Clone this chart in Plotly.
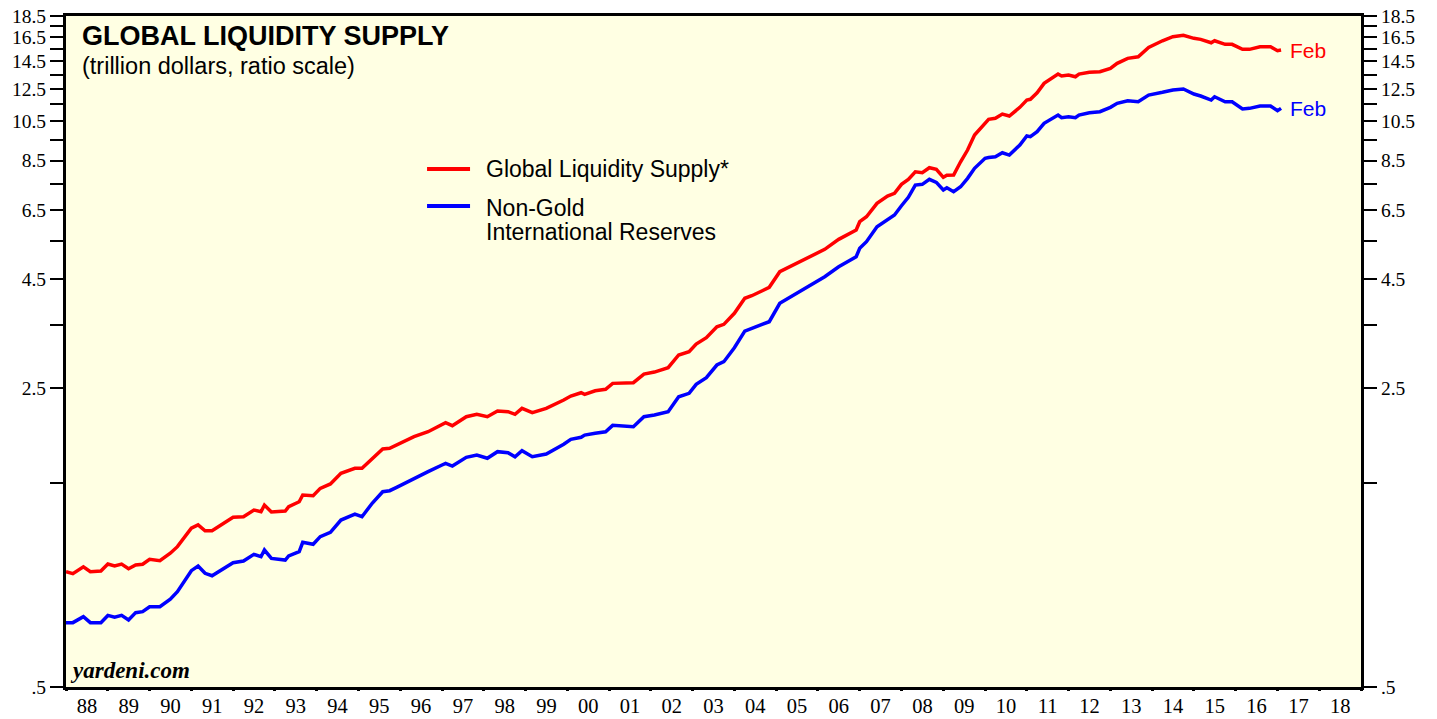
import math
import plotly.graph_objects as go

# ---- data (trillion dollars) ----
dates = [
    "1988-01", "1988-03", "1988-06", "1988-08", "1988-11",
    "1989-01", "1989-03", "1989-05", "1989-07", "1989-09", "1989-11",
    "1990-01", "1990-04", "1990-07", "1990-09",
    "1991-01", "1991-03", "1991-05", "1991-07", "1991-10",
    "1992-01", "1992-04", "1992-07", "1992-09", "1992-10", "1992-12",
    "1993-04", "1993-05", "1993-08", "1993-09", "1993-12",
    "1994-02", "1994-05", "1994-08", "1994-12",
    "1995-02", "1995-05", "1995-08", "1995-10", "1995-12",
    "1996-05", "1996-09",
    "1997-01", "1997-02", "1997-04", "1997-08", "1997-11",
    "1998-02", "1998-05", "1998-08", "1998-10", "1998-12",
    "1999-03", "1999-07", "1999-12",
    "2000-02", "2000-05", "2000-06", "2000-09", "2000-12",
    "2001-02", "2001-05", "2001-08", "2001-11",
    "2002-02", "2002-06", "2002-09", "2002-12",
    "2003-02", "2003-05", "2003-08", "2003-10",
    "2004-01", "2004-04", "2004-06", "2004-09", "2004-11",
    "2005-02", "2005-05", "2005-07", "2005-10",
    "2006-03", "2006-07", "2006-12",
    "2007-01", "2007-03", "2007-06", "2007-09", "2007-11",
    "2008-01", "2008-03", "2008-05", "2008-07", "2008-09", "2008-11",
    "2009-01", "2009-02", "2009-04", "2009-06", "2009-08", "2009-10",
    "2010-01", "2010-02", "2010-04", "2010-06", "2010-08", "2010-10", "2010-11",
    "2011-01", "2011-02", "2011-04", "2011-06", "2011-10", "2011-11",
    "2012-01", "2012-03", "2012-04", "2012-07", "2012-10",
    "2013-01", "2013-03", "2013-06", "2013-09", "2013-12",
    "2014-04", "2014-07", "2014-10",
    "2015-01", "2015-03", "2015-06", "2015-07", "2015-10", "2015-12",
    "2016-03", "2016-05", "2016-08", "2016-11",
    "2017-01", "2017-02",
]

global_liquidity = [
    0.93, 0.92, 0.955, 0.93, 0.933,
    0.969, 0.959, 0.969, 0.945, 0.964, 0.968,
    0.994, 0.987, 1.027, 1.064,
    1.175, 1.196, 1.159, 1.159, 1.202,
    1.246, 1.25, 1.296, 1.284, 1.331, 1.282,
    1.289, 1.319, 1.355, 1.405, 1.40,
    1.456, 1.491, 1.579, 1.622,
    1.622, 1.712, 1.80, 1.806, 1.839,
    1.923, 1.975,
    2.048, 2.073, 2.04, 2.141, 2.169,
    2.141, 2.208, 2.20, 2.169, 2.24,
    2.188, 2.24, 2.343,
    2.393, 2.436, 2.415, 2.462, 2.481,
    2.562, 2.562, 2.571, 2.694,
    2.723, 2.787, 2.985, 3.038,
    3.166, 3.276, 3.475, 3.52,
    3.735, 4.049, 4.106, 4.218, 4.296,
    4.672, 4.80, 4.904, 5.049,
    5.271, 5.562, 5.847,
    6.115, 6.282, 6.751, 7.021, 7.124,
    7.477, 7.681, 8.002, 7.959, 8.176, 8.106,
    7.764, 7.848, 7.861, 8.444, 8.993, 9.749,
    10.383, 10.608, 10.666, 10.915, 10.798, 11.153, 11.316,
    11.769, 11.814, 12.241, 12.876, 13.537, 13.392,
    13.464, 13.342, 13.537, 13.661, 13.705,
    13.958, 14.339, 14.73, 14.857, 15.628,
    16.193, 16.546, 16.671,
    16.404, 16.316, 16.02, 16.193, 15.883, 15.883,
    15.461, 15.461, 15.679, 15.679,
    15.346, 15.403,
]

non_gold_reserves = [
    0.707, 0.707, 0.73, 0.707, 0.707,
    0.735, 0.728, 0.735, 0.717, 0.746, 0.75,
    0.77, 0.77, 0.802, 0.835,
    0.935, 0.959, 0.922, 0.91, 0.942,
    0.976, 0.985, 1.021, 1.008, 1.045, 0.999,
    0.99, 1.012, 1.036, 1.089, 1.078,
    1.123, 1.149, 1.228, 1.268,
    1.25, 1.344, 1.43, 1.438, 1.464,
    1.537, 1.593,
    1.651, 1.666, 1.642, 1.721, 1.742,
    1.712, 1.774, 1.764, 1.726, 1.783,
    1.726, 1.752, 1.846,
    1.896, 1.917, 1.94, 1.958, 1.975,
    2.044, 2.037, 2.029, 2.141,
    2.161, 2.20, 2.384, 2.428,
    2.549, 2.641, 2.828, 2.879,
    3.104, 3.395, 3.445, 3.526, 3.57,
    3.941, 4.07, 4.172, 4.296,
    4.549, 4.80, 5.065,
    5.299, 5.491, 5.953, 6.194, 6.339,
    6.664, 6.972, 7.449, 7.477, 7.681, 7.558,
    7.252, 7.342, 7.186, 7.381, 7.723, 8.15,
    8.60, 8.64, 8.674, 8.863, 8.754, 9.076, 9.239,
    9.697, 9.661, 9.924, 10.383, 10.856, 10.70,
    10.758, 10.70, 10.856, 10.992, 11.052,
    11.316, 11.563, 11.726, 11.663, 12.091,
    12.268, 12.421, 12.487,
    12.156, 12.026, 11.769, 11.981, 11.663, 11.663,
    11.213, 11.255, 11.396, 11.396,
    11.111, 11.255,
]

y_tick_vals = [0.5, 2.5, 4.5, 6.5, 8.5, 10.5, 12.5, 14.5, 16.5, 18.5]
y_tick_text = [".5", "2.5", "4.5", "6.5", "8.5", "10.5", "12.5", "14.5", "16.5", "18.5"]
y_minor_vals = [1.5, 3.5, 5.5, 7.5, 9.5, 11.5, 13.5, 15.5, 17.5]
x_range = ["1988-01-01", "2019-01-01"]
y_range = [0.5, 18.5]

RED = "#FF0000"
BLUE = "#0000FF"
BG = "#FFFFE3"
SERIF = "Liberation Serif"
SANS = "Liberation Sans"

fig = go.Figure()
fig.add_trace(go.Scatter(x=dates, y=global_liquidity, mode="lines",
                         line=dict(color=RED, width=3.5), name="Global Liquidity Supply*",
                         showlegend=False))
fig.add_trace(go.Scatter(x=dates, y=non_gold_reserves, mode="lines",
                         line=dict(color=BLUE, width=3.5), name="Non-Gold International Reserves",
                         showlegend=False))
# invisible companion trace so the right-hand axis is drawn
fig.add_trace(go.Scatter(x=dates, y=global_liquidity, mode="lines", yaxis="y2",
                         opacity=0, line=dict(width=0), showlegend=False, hoverinfo="skip"))

yax_common = dict(
    type="log",
    range=[math.log10(y_range[0]), math.log10(y_range[1])],
    tickmode="array", tickvals=y_tick_vals, ticktext=y_tick_text,
    ticks="outside", ticklen=13, tickwidth=1.5, tickcolor="black",
    minor=dict(tickmode="array", tickvals=y_minor_vals, ticks="outside",
               ticklen=13, tickwidth=1.5, tickcolor="black", showgrid=False),
    showgrid=False, zeroline=False, automargin=False,
    ticklabeloverflow="allow",
    showline=True, linewidth=3, linecolor="black",
    tickfont=dict(family=SERIF, size=19.5, color="black"),
)

fig.update_layout(
    width=1437, height=719,
    margin=dict(l=66, r=76, t=16, b=32, autoexpand=False),
    paper_bgcolor="white", plot_bgcolor=BG,
    xaxis=dict(
        type="date", range=x_range,
        tickmode="linear", tick0="1988-01-01", dtick="M12",
        tickformat="%y", ticklabelmode="period",
        ticks="outside", ticklen=1, tickwidth=3, tickcolor="black",
        minor=dict(tickmode="linear", tick0="1988-01-01", dtick="M12", ticks="outside",
                   ticklen=10, tickwidth=3, tickcolor="black", showgrid=False),
        ticklabeloverflow="allow", ticklabelstandoff=-3,
        showgrid=False, zeroline=False, automargin=False,
        showline=True, linewidth=3, linecolor="black", mirror=True,
        tickfont=dict(family=SERIF, size=20.5, color="black"),
    ),
    yaxis=dict(**yax_common, side="left", mirror=True),
    yaxis2=dict(**yax_common, side="right", overlaying="y"),
    showlegend=False,
)

# right-end labels
fig.add_annotation(x=dates[-1], y=math.log10(global_liquidity[-1]), text="Feb",
                   showarrow=False, xanchor="left", xshift=7,
                   font=dict(family=SANS, size=21, color=RED))
fig.add_annotation(x=dates[-1], y=math.log10(non_gold_reserves[-1]), text="Feb",
                   showarrow=False, xanchor="left", xshift=7,
                   font=dict(family=SANS, size=21, color=BLUE))

# titles
fig.add_annotation(xref="paper", yref="paper", x=0.0108, y=0.970, xanchor="left", yanchor="middle",
                   text="<b>GLOBAL LIQUIDITY SUPPLY</b>", showarrow=False,
                   font=dict(family=SANS, size=27, color="black"))
fig.add_annotation(xref="paper", yref="paper", x=0.0108, y=0.9255, xanchor="left", yanchor="middle",
                   text="(trillion dollars, ratio scale)", showarrow=False,
                   font=dict(family=SANS, size=23.5, color="black"))

# legend (manual)
fig.add_shape(type="line", xref="paper", yref="paper", x0=0.2788, x1=0.3120, y0=0.772, y1=0.772,
              line=dict(color=RED, width=4))
fig.add_shape(type="line", xref="paper", yref="paper", x0=0.2788, x1=0.3120, y0=0.7168, y1=0.7168,
              line=dict(color=BLUE, width=4))
fig.add_annotation(xref="paper", yref="paper", x=0.3228, y=0.772, xanchor="left", yanchor="middle",
                   text="Global Liquidity Supply*", showarrow=False,
                   font=dict(family=SANS, size=23, color="black"))
fig.add_annotation(xref="paper", yref="paper", x=0.3228, y=(687 - 208) / 671, xanchor="left", yanchor="middle",
                   text="Non-Gold", showarrow=False,
                   font=dict(family=SANS, size=23, color="black"))
fig.add_annotation(xref="paper", yref="paper", x=0.3228, y=(687 - 232) / 671, xanchor="left", yanchor="middle",
                   text="International Reserves", showarrow=False,
                   font=dict(family=SANS, size=23, color="black"))

# source
fig.add_annotation(xref="paper", yref="paper", x=0.0015, y=0.024, xanchor="left", yanchor="middle",
                   text="<b><i>yardeni.com</i></b>", showarrow=False,
                   font=dict(family=SERIF, size=23, color="black"))

# remove the default page margin so the figure starts at the window's corner
fig.write_html("out.html", config={"displayModeBar": False},
               post_script="document.body.style.margin='0';")
